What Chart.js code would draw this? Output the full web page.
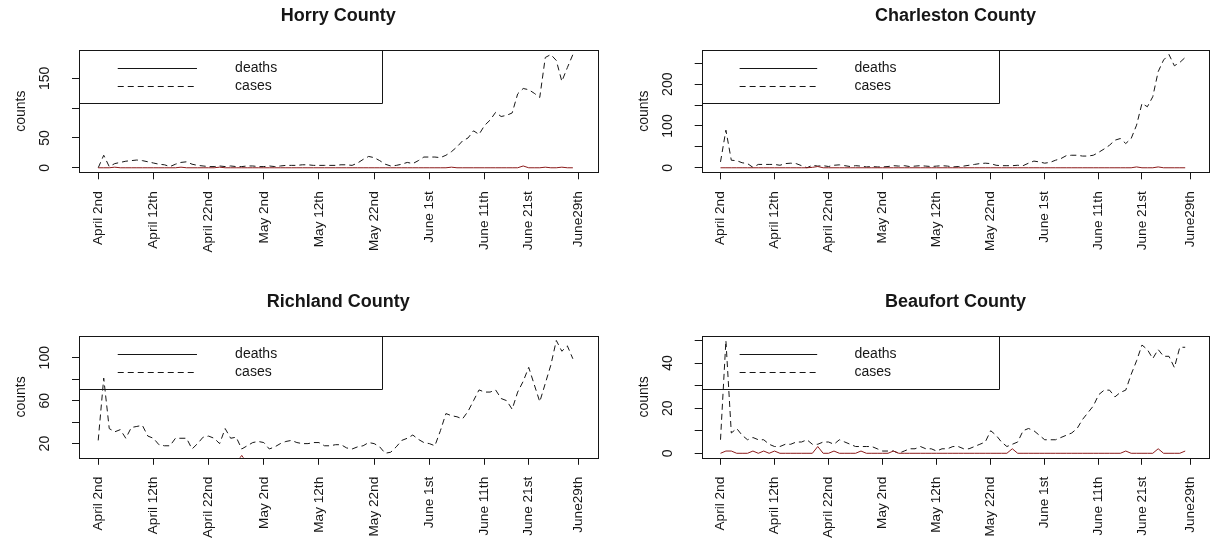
<!DOCTYPE html>
<html>
<head>
<meta charset="utf-8">
<script src="https://cdn.jsdelivr.net/npm/chart.js@4/dist/chart.umd.min.js"></script>
<style>
  html, body { margin: 0; padding: 0; background: #fff; width: 1216px; height: 539px; overflow: hidden; }
  #wrap { position: relative; width: 1216px; height: 539px; overflow: hidden; background: #fff; }
  canvas { position: absolute; }
</style>
</head>
<body>
<div id="wrap">
  <canvas id="c0" width="608" height="286" style="left:0;top:0"></canvas>
  <canvas id="c1" width="608" height="286" style="left:608px;top:0"></canvas>
  <canvas id="c2" width="608" height="253" style="left:0;top:286px"></canvas>
  <canvas id="c3" width="608" height="253" style="left:608px;top:286px"></canvas>
</div>
<script>
// Day index 0 = April 2nd; date labels sit at these day positions
const xTickPos = [0, 10, 20, 30, 40, 50, 60, 70, 78, 87];
const xTickLabels = ['April 2nd', 'April 12th', 'April 22nd', 'May 2nd', 'May 12th',
                     'May 22nd', 'June 1st', 'June 11th', 'June 21st', 'June29th'];

const seriesLabels = ['deaths', 'cases'];

// Daily new counts per county
const horryCases = [
  0, 21, 2, 7, 9, 11, 12, 13, 12, 10,
  8, 6, 5, 2, 6, 9, 10, 6, 4, 3,
  2, 2, 3, 2, 3, 2, 2, 3, 3, 2,
  2, 3, 2, 3, 4, 4, 4, 5, 5, 4,
  4, 4, 4, 4, 5, 5, 4, 8, 14, 19,
  17, 12, 6, 3, 4, 6, 9, 7, 12, 18,
  18, 18, 17, 21, 27, 35, 45, 50, 62, 56,
  71, 80, 93, 86, 88, 92, 124, 133, 131, 125,
  118, 185, 190, 180, 145, 168, 190
];
const horryDeaths = [
  0, 0, 0, 1, 0, 0, 0, 0, 0, 0,
  0, 0, 0, 0, 0, 1, 0, 0, 0, 0,
  0, 0, 1, 0, 0, 0, 0, 0, 0, 0,
  0, 0, 0, 0, 0, 0, 0, 0, 0, 0,
  0, 0, 0, 0, 0, 0, 0, 0, 0, 0,
  0, 0, 0, 0, 0, 0, 0, 0, 0, 0,
  0, 0, 0, 0, 1, 0, 0, 0, 0, 0,
  0, 0, 0, 0, 0, 0, 0, 3, 0, 0,
  0, 1, 0, 0, 1, 0, 0
];

const charlestonCases = [
  14, 90, 18, 17, 12, 10, 1, 8, 8, 8,
  8, 6, 10, 11, 10, 5, 0, 6, 4, 5,
  3, 6, 7, 5, 3, 5, 4, 2, 3, 2,
  2, 3, 5, 4, 5, 3, 4, 5, 4, 3,
  4, 5, 4, 2, 3, 4, 6, 8, 10, 11,
  10, 6, 5, 5, 5, 6, 5, 11, 16, 14,
  11, 13, 18, 22, 29, 30, 30, 28, 28, 30,
  37, 45, 54, 66, 70, 58, 70, 102, 154, 146,
  170, 230, 258, 271, 244, 252, 264
];
const charlestonDeaths = [
  0, 0, 0, 0, 0, 0, 0, 0, 0, 0,
  0, 0, 0, 0, 0, 0, 0, 1, 3, 0,
  0, 0, 0, 0, 0, 0, 0, 0, 0, 0,
  0, 0, 0, 0, 0, 0, 0, 0, 0, 0,
  0, 0, 0, 0, 0, 0, 0, 0, 0, 0,
  0, 0, 0, 0, 0, 0, 0, 0, 0, 0,
  0, 0, 0, 0, 0, 0, 0, 0, 0, 0,
  0, 0, 0, 0, 0, 0, 0, 2, 0, 0,
  0, 2, 0, 0, 0, 0, 0
];

const richlandCases = [
  23, 81, 34, 31, 33, 25, 35, 36, 37, 27,
  25, 19, 18, 18, 25, 25, 25, 15, 20, 26,
  27, 25, 20, 34, 25, 26, 15, 18, 21, 22,
  21, 15, 17, 20, 22, 23, 21, 20, 20, 21,
  21, 18, 18, 19, 19, 16, 15, 17, 18, 21,
  20, 17, 11, 12, 17, 23, 25, 28, 24, 21,
  20, 18, 32, 48, 46, 45, 43, 50, 60, 70,
  68, 68, 70, 62, 60, 52, 68, 78, 91, 75,
  59, 76, 93, 116, 106, 111, 99
];
const richlandDeaths = [
  1, 2, 1, 3, 2, 4, 2, 3, 1, 2,
  3, 2, 1, 4, 2, 3, 2, 1, 3, 2,
  4, 3, 2, 1, 3, 2, 9, 2, 3, 1,
  2, 3, 4, 2, 1, 3, 2, 2, 1, 3,
  2, 1, 2, 1, 3, 2, 1, 2, 1, 1,
  2, 1, 0, 1, 2, 1, 0, 1, 1, 2,
  1, 0, 1, 2, 1, 1, 0, 1, 2, 1,
  1, 0, 1, 1, 2, 0, 1, 1, 0, 2,
  1, 0, 1, 1, 0, 2, 1
];

const beaufortCases = [
  6, 50, 9, 11, 8, 6, 7, 6, 6, 4,
  3, 3, 4, 4, 5, 5, 6, 4, 4, 5,
  5, 4, 6, 5, 4, 3, 3, 3, 3, 2,
  1, 1, 1, 0, 1, 2, 2, 3, 2, 2,
  1, 2, 2, 3, 3, 2, 2, 3, 4, 5,
  10, 8, 5, 3, 4, 5, 10, 11, 10, 8,
  6, 6, 6, 7, 8, 9, 11, 15, 18, 21,
  26, 28, 28, 25, 27, 28, 35, 41, 48, 46,
  42, 46, 43, 43, 38, 47, 47
];
const beaufortDeaths = [
  0, 1, 1, 0, 0, 0, 1, 0, 1, 0,
  1, 0, 0, 0, 0, 0, 0, 0, 3, 0,
  0, 1, 0, 0, 0, 0, 1, 0, 0, 0,
  0, 0, 1, 0, 0, 0, 0, 0, 0, 0,
  0, 0, 0, 0, 0, 0, 0, 0, 0, 0,
  0, 0, 0, 0, 2, 0, 0, 0, 0, 0,
  0, 0, 0, 0, 0, 0, 0, 0, 0, 0,
  0, 0, 0, 0, 0, 1, 0, 0, 0, 0,
  0, 2, 0, 0, 0, 0, 1
];

// Y-axis ticks; blank entries are ticks whose label is left out
const horryYTicks = [0, 50, 100, 150];
const horryYLabels = ['0', '50', '', '150'];
const charlestonYTicks = [0, 50, 100, 150, 200, 250];
const charlestonYLabels = ['0', '', '100', '', '200', ''];
const richlandYTicks = [20, 40, 60, 80, 100];
const richlandYLabels = ['20', '', '60', '', '100'];
const beaufortYTicks = [0, 10, 20, 30, 40, 50];
const beaufortYLabels = ['0', '', '20', '', '40', ''];

const FONT = '"Liberation Sans", Arial, Helvetica, sans-serif';
const INK = '#161616';
const DEATH_COLOR = '#8b1a1a';
Chart.defaults.color = INK;

// Panel frame, legend, title and rotated y labels, R-style
const frame = {
  id: 'frame',
  afterDraw(chart, args, o) {
    const ctx = chart.ctx;
    const a = chart.chartArea;
    const L = Math.round(a.left) + 0.5, T = Math.round(a.top) + 0.5;
    const R = Math.round(a.right) + 0.5, B = Math.round(a.bottom) + 0.5;
    const W = a.right - a.left;
    ctx.save();
    ctx.strokeStyle = INK;
    ctx.lineWidth = 1;
    ctx.setLineDash([]);
    ctx.strokeRect(L, T, R - L, B - T);

    // legend box (transparent)
    const lgR = Math.round(a.left + W * 0.585) + 0.5;
    const lgB = Math.round(a.top + 53.3) + 0.5;
    ctx.beginPath();
    ctx.moveTo(L, lgB); ctx.lineTo(lgR, lgB); ctx.lineTo(lgR, T);
    ctx.stroke();
    const x1 = a.left + W * 0.0747, x2 = a.left + W * 0.2275, xt = a.left + W * 0.301;
    const rows = [a.top + 17.7, a.top + 36];
    ctx.font = '14px ' + FONT;
    ctx.textAlign = 'left';
    ctx.textBaseline = 'middle';
    ctx.fillStyle = INK;
    chart.data.datasets.forEach((ds, i) => {
      const y = Math.round(rows[i]) + 0.5;
      ctx.setLineDash(ds.borderDash || []);
      ctx.beginPath(); ctx.moveTo(x1, y); ctx.lineTo(x2, y); ctx.stroke();
      ctx.setLineDash([]);
      ctx.fillText(ds.label, xt, rows[i]);
    });

    // title
    ctx.font = 'bold 18px ' + FONT;
    ctx.textAlign = 'center';
    ctx.textBaseline = 'alphabetic';
    ctx.fillText(o.title, (a.left + a.right) / 2, 21);

    // y tick labels, parallel to the axis
    const ys = chart.scales.y;
    ctx.font = '14px ' + FONT;
    o.yTicks.forEach((v, i) => {
      const lab = o.yLabels[i];
      if (!lab) return;
      ctx.save();
      ctx.translate(a.left - 30, ys.getPixelForValue(v));
      ctx.rotate(-Math.PI / 2);
      ctx.fillText(lab, 0, 0);
      ctx.restore();
    });
    ctx.save();
    ctx.translate(a.left - 54, (a.top + a.bottom) / 2);
    ctx.rotate(-Math.PI / 2);
    ctx.fillText('counts', 0, 0);
    ctx.restore();
    ctx.restore();
  }
};

function makePanel(id, title, cases, deaths, yTicks, yLabels, g) {
  const lo = Math.min(...cases), hi = Math.max(...cases);
  const ypad = (hi - lo) * 0.04;
  const xEnd = xTickPos[xTickPos.length - 1];
  const xpad = xEnd * 0.04;
  const pts = arr => arr.map((v, i) => ({ x: i, y: v }));
  return new Chart(document.getElementById(id), {
    type: 'line',
    data: {
      datasets: [
        { label: seriesLabels[0], data: pts(deaths), borderColor: DEATH_COLOR, borderWidth: 1,
          pointRadius: 0, tension: 0, clip: 0 },
        { label: seriesLabels[1], data: pts(cases), borderColor: INK, borderWidth: 1,
          borderDash: [6, 4], pointRadius: 0, tension: 0, clip: 0 }
      ]
    },
    options: {
      responsive: false,
      animation: false,
      devicePixelRatio: 1,
      events: [],
      layout: { padding: { left: g.padL, right: g.padR, top: 50, bottom: 0 } },
      plugins: {
        legend: { display: false },
        title: { display: false },
        tooltip: { enabled: false },
        frame: { title, yTicks, yLabels }
      },
      scales: {
        x: {
          type: 'linear',
          min: -xpad, max: xEnd + xpad,
          afterBuildTicks: s => { s.ticks = xTickPos.map(v => ({ value: v })); },
          afterFit: s => { s.height = g.xH; s.paddingLeft = 0; s.paddingRight = 0; },
          ticks: {
            autoSkip: false, minRotation: 90, maxRotation: 90, padding: 12,
            font: { family: FONT, size: 13.6 }, color: INK,
            callback: (v, i) => xTickLabels[i]
          },
          grid: { display: true, drawOnChartArea: false, drawTicks: true, tickLength: 7,
                  tickColor: INK, tickWidth: 1 },
          border: { display: false }
        },
        y: {
          type: 'linear',
          min: lo - ypad, max: hi + ypad,
          afterBuildTicks: s => { s.ticks = yTicks.map(v => ({ value: v })); },
          afterFit: s => { s.width = 10; s.paddingTop = 0; s.paddingBottom = 0; },
          ticks: { display: false },
          grid: { display: true, drawOnChartArea: false, drawTicks: true, tickLength: 7,
                  tickColor: INK, tickWidth: 1 },
          border: { display: false }
        }
      }
    },
    plugins: [frame]
  });
}

// x-axis band runs to the canvas bottom so the rotated date labels are not clipped
const leftTop = { padL: 69, padR: 10.4, xH: 113.7 };
const rightTop = { padL: 83.7, padR: 6.6, xH: 113.7 };
const leftBot = { padL: 69, padR: 10.4, xH: 81.2 };
const rightBot = { padL: 83.7, padR: 6.6, xH: 81.2 };

makePanel('c0', 'Horry County', horryCases, horryDeaths, horryYTicks, horryYLabels, leftTop);
makePanel('c1', 'Charleston County', charlestonCases, charlestonDeaths, charlestonYTicks, charlestonYLabels, rightTop);
makePanel('c2', 'Richland County', richlandCases, richlandDeaths, richlandYTicks, richlandYLabels, leftBot);
makePanel('c3', 'Beaufort County', beaufortCases, beaufortDeaths, beaufortYTicks, beaufortYLabels, rightBot);
</script>
</body>
</html>
